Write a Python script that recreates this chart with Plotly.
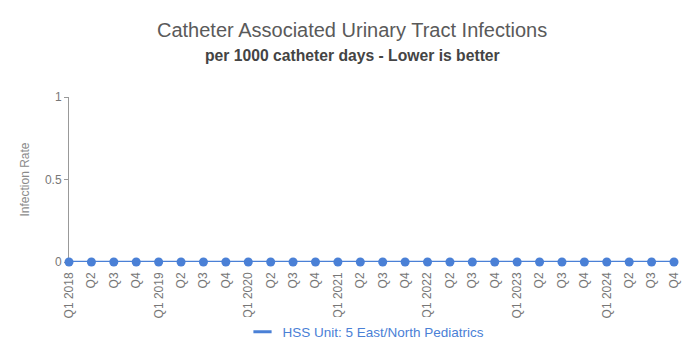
import plotly.graph_objects as go

quarters = []
for yr in range(2018, 2025):
    for q in range(1, 5):
        quarters.append(f"Q1 {yr}" if q == 1 else f"Q{q}")
values = [0] * 28
series_name = "HSS Unit: 5 East/North Pediatrics"
blue = "#4a80d6"

fig = go.Figure()
fig.add_trace(go.Scatter(
    x=list(range(len(quarters))), y=values, mode="lines+markers",
    name=series_name, showlegend=False,
    line=dict(color=blue, width=2.5),
    marker=dict(color=blue, size=9),
    cliponaxis=False,
))
# legend entry: short line symbol only
fig.add_trace(go.Scatter(
    x=[None], y=[None], mode="markers", name=series_name,
    marker=dict(symbol="line-ew-open", size=13, color=blue, line=dict(color=blue, width=3)),
))

font = "Liberation Sans, Arial, sans-serif"
W, H = 700, 363
L, R, T, B = 69, 26, 97, 101
ph = H - T - B
pw = W - L - R

def py(pix):
    return (H - B - pix) / ph

def px(pix):
    return (pix - L) / pw

fig.update_layout(
    width=W, height=H,
    margin=dict(l=L, r=R, t=T, b=B),
    paper_bgcolor="white", plot_bgcolor="white",
    font=dict(family=font, color="#777777"),
    showlegend=True,
    legend=dict(orientation="h", x=px(366), xanchor="center", y=py(332), yanchor="middle",
                font=dict(size=13.5, color=blue), itemwidth=30),
    annotations=[
        dict(text="Catheter Associated Urinary Tract Infections", x=px(352), xref="paper",
             y=py(30), yref="paper", showarrow=False, xanchor="center", yanchor="middle",
             font=dict(size=20, color="#5a5a5a")),
        dict(text="<b>per 1000 catheter days - Lower is better</b>", x=px(352), xref="paper",
             y=py(56), yref="paper", showarrow=False, xanchor="center", yanchor="middle",
             font=dict(size=15.7, color="#444444")),
    ],
)

fig.update_xaxes(
    range=[0, 27], tickmode="array", tickvals=list(range(28)), ticktext=quarters,
    tickangle=-90, tickfont=dict(size=12, color="#777777"),
    showgrid=False, zeroline=False, showline=False,
    ticks="", ticklabelstandoff=7, fixedrange=True,
)
fig.update_yaxes(
    range=[0, 1], tickvals=[0, 0.5, 1], ticktext=["0", "0.5", "1"],
    tickfont=dict(size=12, color="#777777"),
    title=dict(text="Infection Rate", font=dict(size=12, color="#8a8a8a"), standoff=12),
    showgrid=False, zeroline=False, showline=True, linecolor="#999999",
    ticks="outside", ticklen=4, tickcolor="#999999", fixedrange=True,
    layer="below traces",
)

fig.write_html("out.html", config={"displayModeBar": False},
               post_script="document.body.style.margin='0';")
